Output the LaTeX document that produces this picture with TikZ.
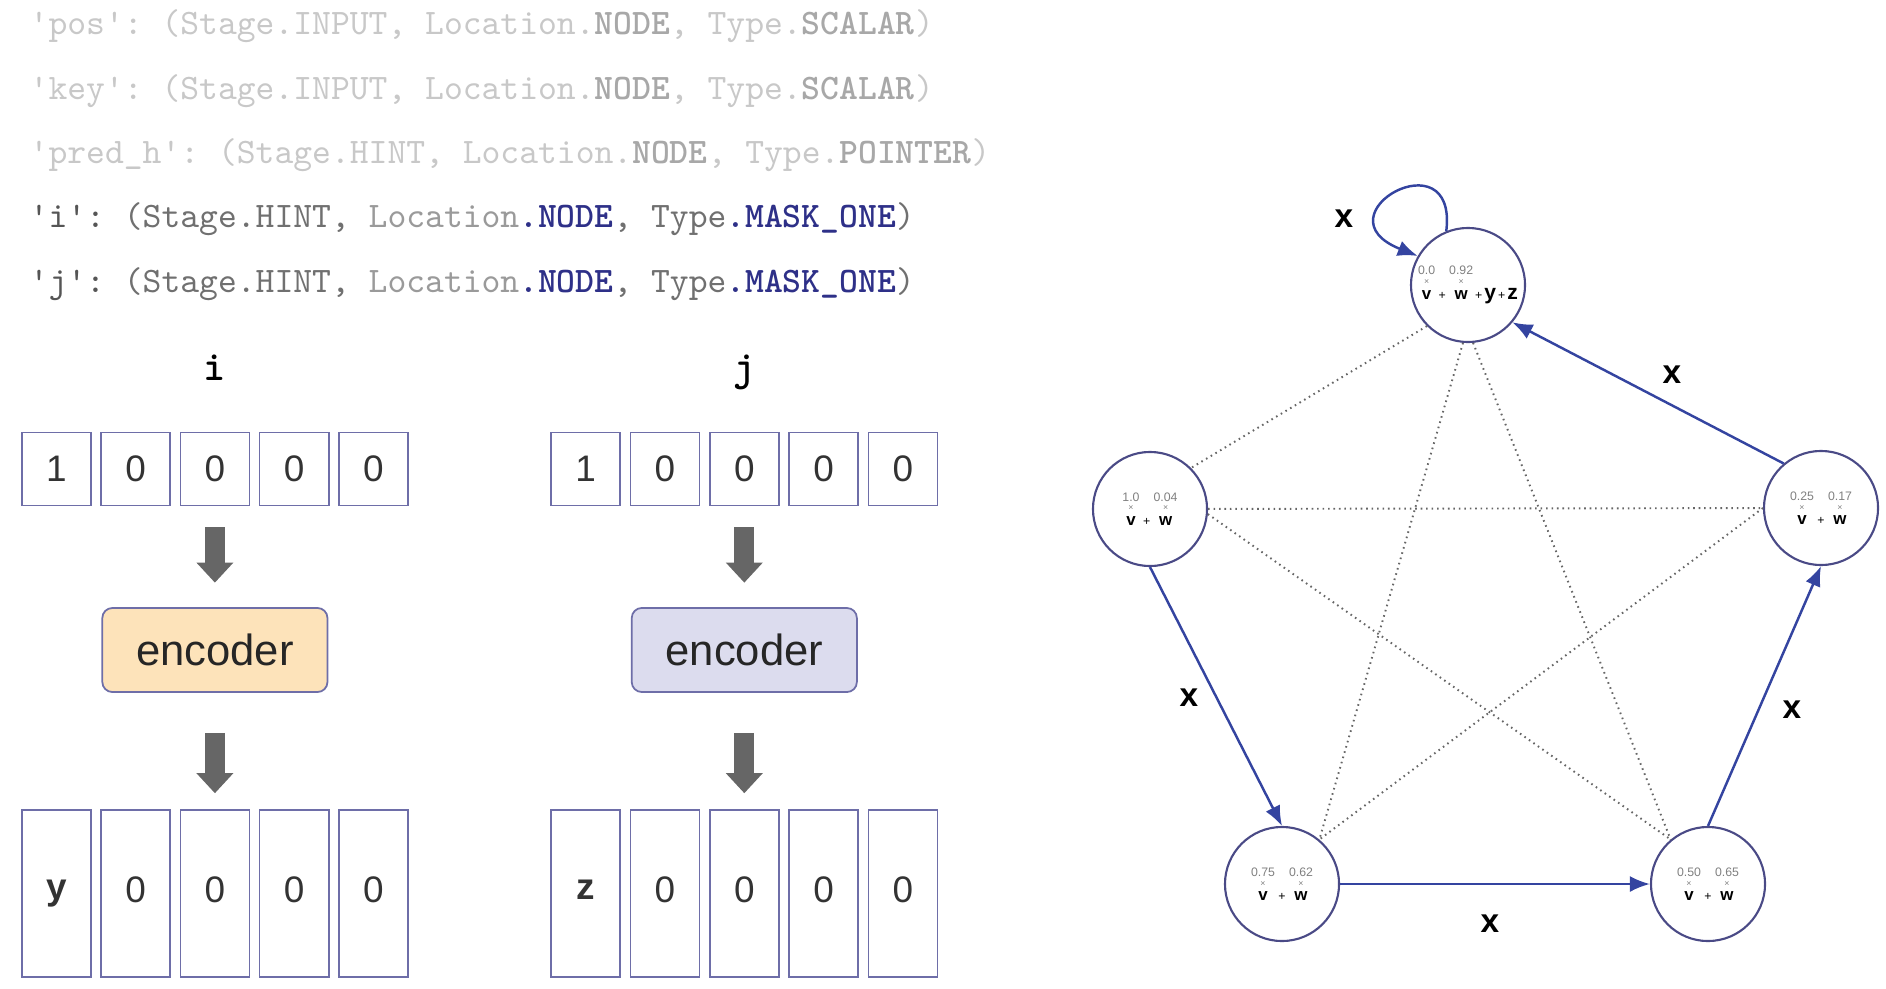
\documentclass[tikz,border=0pt]{standalone}
\usepackage{fontspec}
\setmainfont{Liberation Sans}
\usetikzlibrary{arrows.meta}
\definecolor{cellblue}{HTML}{6E6EA8}
\definecolor{encorange}{HTML}{FDE3BA}
\definecolor{enclilac}{HTML}{DCDCEE}
\definecolor{edgeblue}{HTML}{3444A0}
\definecolor{ringblue}{HTML}{4A4A86}
\definecolor{codeblue}{HTML}{2E3088}
\definecolor{codedark}{HTML}{555555}
\definecolor{codemid}{HTML}{707070}
\definecolor{codelight}{HTML}{9A9A9A}
\definecolor{fadetext}{HTML}{C8C8C8}
\definecolor{fadekw}{HTML}{A8A8A8}
\definecolor{numgray}{HTML}{808080}
\newcommand\cq{\textquotesingle}
\newcommand\fkw[1]{{\color{fadekw}\bfseries #1}}
\newcommand\bkw[1]{{\color{codeblue}\bfseries #1}}
\newcommand\hw[2]{\shortstack{{\fontsize{3.5}{4}\selectfont\color{numgray}#1}\\[-1.6pt]{\fontsize{2.5}{3}\selectfont\color{numgray}×}\\[-1.4pt]{\fontsize{4.8}{5}\selectfont\bfseries #2}}}
\newcommand\pl{{\fontsize{3.5}{4}\selectfont\ +\ }}
\begin{document}
\begin{tikzpicture}[x=0.01cm,y=-0.01cm,
    code/.style={anchor=west,inner sep=0pt,font=\ttfamily\frenchspacing\fontsize{10.2}{12}\selectfont},
    cell/.style={draw=cellblue,line width=0.45pt,minimum width=0.69cm,minimum height=0.73cm,inner sep=0pt,font=\fontsize{10.5}{12}\selectfont,text=black!80},
    tallcell/.style={cell,minimum height=1.67cm},
    enc/.style={draw=cellblue,line width=0.5pt,rounded corners=0.1cm,minimum width=2.25cm,minimum height=0.84cm,font=\fontsize{12.4}{14}\selectfont,text=black!85},
    feed/.style={-{Triangle[length=0.2cm,width=0.37cm,line width=0pt]},line width=0.2cm,draw=black!60},
    ring/.style={circle,draw=ringblue,line width=0.6pt,minimum size=1.14cm,inner sep=0pt},
    edge/.style={-{Latex[length=0.2cm,width=0.16cm]},draw=edgeblue,line width=0.7pt},
    faint/.style={draw=black!60,line width=0.55pt,dash pattern=on 0.45pt off 1.1pt},
    lbl/.style={font=\bfseries\fontsize{9.5}{11}\selectfont}]
  \useasboundingbox (0,0) rectangle (1886,988);
  % feature specs
  \node[code,text=fadetext] (cpos) at (29,26.5) {\cq pos\cq: (Stage.INPUT, Location.\fkw{NODE}, Type.\fkw{SCALAR})};
  \node[code,text=fadetext] (ckey) at (29,91.4) {\cq key\cq: (Stage.INPUT, Location.\fkw{NODE}, Type.\fkw{SCALAR})};
  \node[code,text=fadetext] (cpred) at (29,155) {\cq pred\_h\cq: (Stage.HINT, Location.\fkw{NODE}, Type.\fkw{POINTER})};
  \node[code,text=codedark] (ci) at (29,219) {\cq i\cq: {\color{codemid}(Stage.HINT,} {\color{codelight}Location}\bkw{.NODE}{\color{codemid}, Type}\bkw{.MASK\_ONE}{\color{codemid})}};
  \node[code,text=codedark] (cj) at (29,284) {\cq j\cq: {\color{codemid}(Stage.HINT,} {\color{codelight}Location}\bkw{.NODE}{\color{codemid}, Type}\bkw{.MASK\_ONE}{\color{codemid})}};
  % one-hot hints and their encodings
  \foreach \v [count=\k] in {1,0,0,0,0} {
    \node[cell] (i\k) at ({56.3+79.3*(\k-1)},469) {\v};
    \node[cell] (j\k) at ({585.7+79.3*(\k-1)},469) {\v};
  }
  \foreach \v/\w [count=\k] in {{\bfseries y}/{\bfseries z},0/0,0/0,0/0,0/0} {
    \node[tallcell] (yi\k) at ({56.3+79.3*(\k-1)},893.5) {\raisebox{2pt}{\v}};
    \node[tallcell] (zj\k) at ({585.7+79.3*(\k-1)},893.5) {\raisebox{2pt}{\w}};
  }
  \node[font=\ttfamily\bfseries\fontsize{12}{14}\selectfont,anchor=base] (li) at (i3 |- 0,380) {i};
  \node[font=\ttfamily\bfseries\fontsize{12}{14}\selectfont,anchor=base] (lj) at (j3 |- 0,380) {j};
  \node[enc,fill=encorange] (ei) at (i3 |- 0,650) {encoder};
  \node[enc,fill=enclilac] (ej) at (j3 |- 0,650) {encoder};
  \draw[feed,shorten <=0.21cm,shorten >=0.245cm] (i3) -- (ei);
  \draw[feed,shorten <=0.21cm,shorten >=0.245cm] (j3) -- (ej);
  \draw[feed,shorten <=0.4cm,shorten >=0.16cm] (ei) -- (yi3);
  \draw[feed,shorten <=0.4cm,shorten >=0.16cm] (ej) -- (zj3);
  % graph
  \node[ring] (T) at (1468,285) {\hw{0.0}{v}\pl\hw{0.92}{w}{\fontsize{3.5}{4}\selectfont\,+\,}{\fontsize{6}{7}\selectfont\bfseries y}{\fontsize{3.5}{4}\selectfont\,+\,}{\fontsize{6}{7}\selectfont\bfseries z}};
  \node[ring] (L) at (1150,509) {\hw{1.0}{v}\pl\hw{0.04}{w}};
  \node[ring] (R) at (1821,508) {\hw{0.25}{v}\pl\hw{0.17}{w}};
  \node[ring] (BL) at (1282,884) {\hw{0.75}{v}\pl\hw{0.62}{w}};
  \node[ring] (BR) at (1708,884) {\hw{0.50}{v}\pl\hw{0.65}{w}};
  \draw[faint] (T.225) -- (L.45);
  \draw[faint] (T.265) -- (BL.50);
  \draw[faint] (T.275) -- (BR.130);
  \draw[faint] (L) -- (R);
  \draw[faint] (L.-5) -- (BR.130);
  \draw[faint] (R.west) -- (BL.50);
  \draw[edge] (L.south) -- (BL.north);
  \draw[edge] (BL) -- (BR);
  \draw[edge] (BR.north) -- (R.south);
  \draw[edge] (R.130) -- (T.-40);
  \draw[edge] (T.112) .. controls (1458,135) and (1315,215) .. (T.150);
  \node[lbl] (xloop) at (1344,219) {x};
  \node[lbl] (xrt) at (1672,375) {x};
  \node[lbl] (xl) at (1189,698) {x};
  \node[lbl] (xr) at (1792,710) {x};
  \node[lbl] (xb) at (1490,924) {x};
\end{tikzpicture}
\end{document}
